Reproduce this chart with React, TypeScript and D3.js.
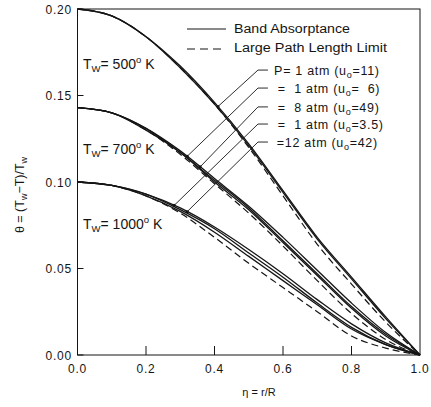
import React from "react";
import * as d3 from "d3";

const eta = [0, 0.1, 0.2, 0.3, 0.4, 0.5, 0.6, 0.7, 0.8, 0.9, 1.0];

// T_w = 500 K
const t500a = [0.2, 0.196, 0.184, 0.167, 0.146, 0.122, 0.095, 0.068, 0.045, 0.022, 0];
const t500b = [0.2, 0.196, 0.184, 0.166, 0.145, 0.121, 0.094, 0.067, 0.044, 0.021, 0];
const t500d = [0.2, 0.196, 0.184, 0.166, 0.145, 0.12, 0.092, 0.064, 0.041, 0.019, 0];
// T_w = 700 K
const t700a = [0.143, 0.14, 0.131, 0.118, 0.102, 0.086, 0.068, 0.049, 0.03, 0.013, 0];
const t700b = [0.143, 0.14, 0.131, 0.117, 0.101, 0.085, 0.066, 0.047, 0.028, 0.012, 0];
const t700c = [0.143, 0.14, 0.13, 0.117, 0.1, 0.084, 0.065, 0.046, 0.027, 0.011, 0];
const t700d = [0.143, 0.14, 0.13, 0.116, 0.099, 0.082, 0.063, 0.043, 0.024, 0.009, 0];
// T_w = 1000 K
const t1000a = [0.1, 0.098, 0.093, 0.085, 0.074, 0.061, 0.047, 0.032, 0.018, 0.007, 0];
const t1000b = [0.1, 0.098, 0.093, 0.084, 0.073, 0.059, 0.045, 0.03, 0.016, 0.006, 0];
const t1000c = [0.1, 0.098, 0.092, 0.083, 0.071, 0.057, 0.043, 0.029, 0.015, 0.006, 0];
const t1000d = [0.1, 0.098, 0.092, 0.082, 0.068, 0.053, 0.039, 0.025, 0.011, 0.004, 0];

const solidSeries = [t500a, t500b, t700a, t700b, t700c, t1000a, t1000b, t1000c];
const dashedSeries = [t500d, t700d, t1000d];
const groupMain = [t500a, t700a, t1000a];

const xTicks = [0, 0.2, 0.4, 0.6, 0.8, 1.0];
const yTicks = [0, 0.05, 0.1, 0.15, 0.2];

const wallTemps = ["500", "700", "1000"];
const wallLabelTheta = [0.168, 0.119, 0.076];

const casePrefix = ["P=\u00a01 atm (u", "=\u00a0\u00a01 atm (u", "=\u00a0\u00a08 atm (u", "=\u00a0\u00a01 atm (u", "=12 atm (u"];
const caseSuffix = ["=11)", "=\u00a0\u00a06)", "=49)", "=3.5)", "=42)"];
const caseTheta = [0.1647, 0.1543, 0.1434, 0.1335, 0.1231];
const caseTextEta = [0.574, 0.585, 0.585, 0.585, 0.582];
const caseTargetGroup = [0, 1, 1, 2, 2];
const caseTargetEta = [0.41, 0.32, 0.358, 0.282, 0.32];

const W = 431;
const H = 407;
const FONT = "'Liberation Sans', Arial, sans-serif";

function interp(vals: number[], e: number) {
  const i = Math.min(Math.floor(e * 10), 9);
  const t = (e - eta[i]) / 0.1;
  return vals[i] + (vals[i + 1] - vals[i]) * t;
}

export default function App() {
  const x = d3.scaleLinear().domain([0, 1]).range([77.5, 420]);
  const y = d3.scaleLinear().domain([0, 0.2]).range([355, 9]);
  const line = d3
    .line<number>()
    .x((_, i) => x(eta[i]))
    .y((d) => y(d))
    .curve(d3.curveMonotoneX);

  const ink = "#151515";

  return (
    <svg
      width={W}
      height={H}
      style={{ position: "absolute", left: 0, top: 0, background: "#fff" }}
      fontFamily={FONT}
    >
      {/* frame */}
      <rect x={x(0)} y={y(0.2)} width={x(1) - x(0)} height={y(0) - y(0.2)} fill="none" stroke={ink} strokeWidth={1} />
      {/* y ticks */}
      {yTicks.map((t) => (
        <g key={"y" + t}>
          <line x1={x(0)} x2={x(0) + 6} y1={y(t)} y2={y(t)} stroke={ink} strokeWidth={1} />
          <text x={72} y={y(t) + 4.5} textAnchor="end" fontSize={12} letterSpacing={0.8} fill={ink}>
            {t.toFixed(2)}
          </text>
        </g>
      ))}
      {/* x ticks */}
      {xTicks.map((t) => (
        <g key={"x" + t}>
          {t > 0 && t < 1 && (
            <line x1={x(t)} x2={x(t)} y1={y(0)} y2={y(0) - 9} stroke={ink} strokeWidth={1} />
          )}
          <text x={x(t)} y={373} textAnchor="middle" fontSize={12} letterSpacing={0.8} fill={ink}>
            {t.toFixed(1)}
          </text>
        </g>
      ))}
      {/* axis titles */}
      <text x={259} y={396} textAnchor="middle" fontSize={11} fill={ink}>
        η = r/R
      </text>
      <text transform="translate(24,195) rotate(-90)" textAnchor="middle" fontSize={12.5} fill={ink}>
        θ = (T<tspan fontSize={9} dy={3}>w</tspan>
        <tspan dy={-3}>−T)/T</tspan>
        <tspan fontSize={9} dy={3}>w</tspan>
      </text>

      {/* curves */}
      {solidSeries.map((s, i) => (
        <path key={"s" + i} d={line(s) || ""} fill="none" stroke={ink} strokeWidth={1.3} />
      ))}
      {dashedSeries.map((s, i) => (
        <path key={"d" + i} d={line(s) || ""} fill="none" stroke={ink} strokeWidth={1.2} strokeDasharray="7,4" />
      ))}

      {/* leader lines and case labels */}
      {casePrefix.map((p, i) => {
        const ly = y(caseTheta[i]);
        const tx = x(caseTargetEta[i]);
        const ty = y(interp(groupMain[caseTargetGroup[i]], caseTargetEta[i]));
        const ex = x(0.527);
        const hx = x(0.556);
        return (
          <g key={"c" + i}>
            <polyline points={`${hx},${ly} ${ex},${ly} ${tx},${ty}`} fill="none" stroke={ink} strokeWidth={0.9} />
            <circle cx={tx} cy={ty} r={1.6} fill={ink} />
            <text x={x(caseTextEta[i])} y={ly + 5} fontSize={12.5} letterSpacing={0.7} fill={ink}>
              {p}
              <tspan fontSize={9} dy={3}>o</tspan>
              <tspan dy={-3}>{caseSuffix[i]}</tspan>
            </text>
          </g>
        );
      })}

      {/* wall temperature labels */}
      {wallTemps.map((t, i) => (
        <text key={"w" + t} x={83} y={y(wallLabelTheta[i]) + 5} fontSize={14} fill={ink}>
          T<tspan fontSize={9.5} dy={3}>W</tspan>
          <tspan dy={-3}>= {t}</tspan>
          <tspan fontSize={9.5} dy={-6}>o</tspan>
          <tspan dy={6}> K</tspan>
        </text>
      ))}

      {/* legend */}
      <line x1={187} x2={226} y1={29} y2={29} stroke={ink} strokeWidth={1.2} />
      <text x={234} y={33} fontSize={12} textLength={116} lengthAdjust="spacingAndGlyphs" fill={ink}>
        Band Absorptance
      </text>
      <line x1={187} x2={226} y1={49} y2={49} stroke={ink} strokeWidth={1.2} strokeDasharray="8,5" />
      <text x={234} y={52} fontSize={12} textLength={153} lengthAdjust="spacingAndGlyphs" fill={ink}>
        Large Path Length Limit
      </text>
    </svg>
  );
}
